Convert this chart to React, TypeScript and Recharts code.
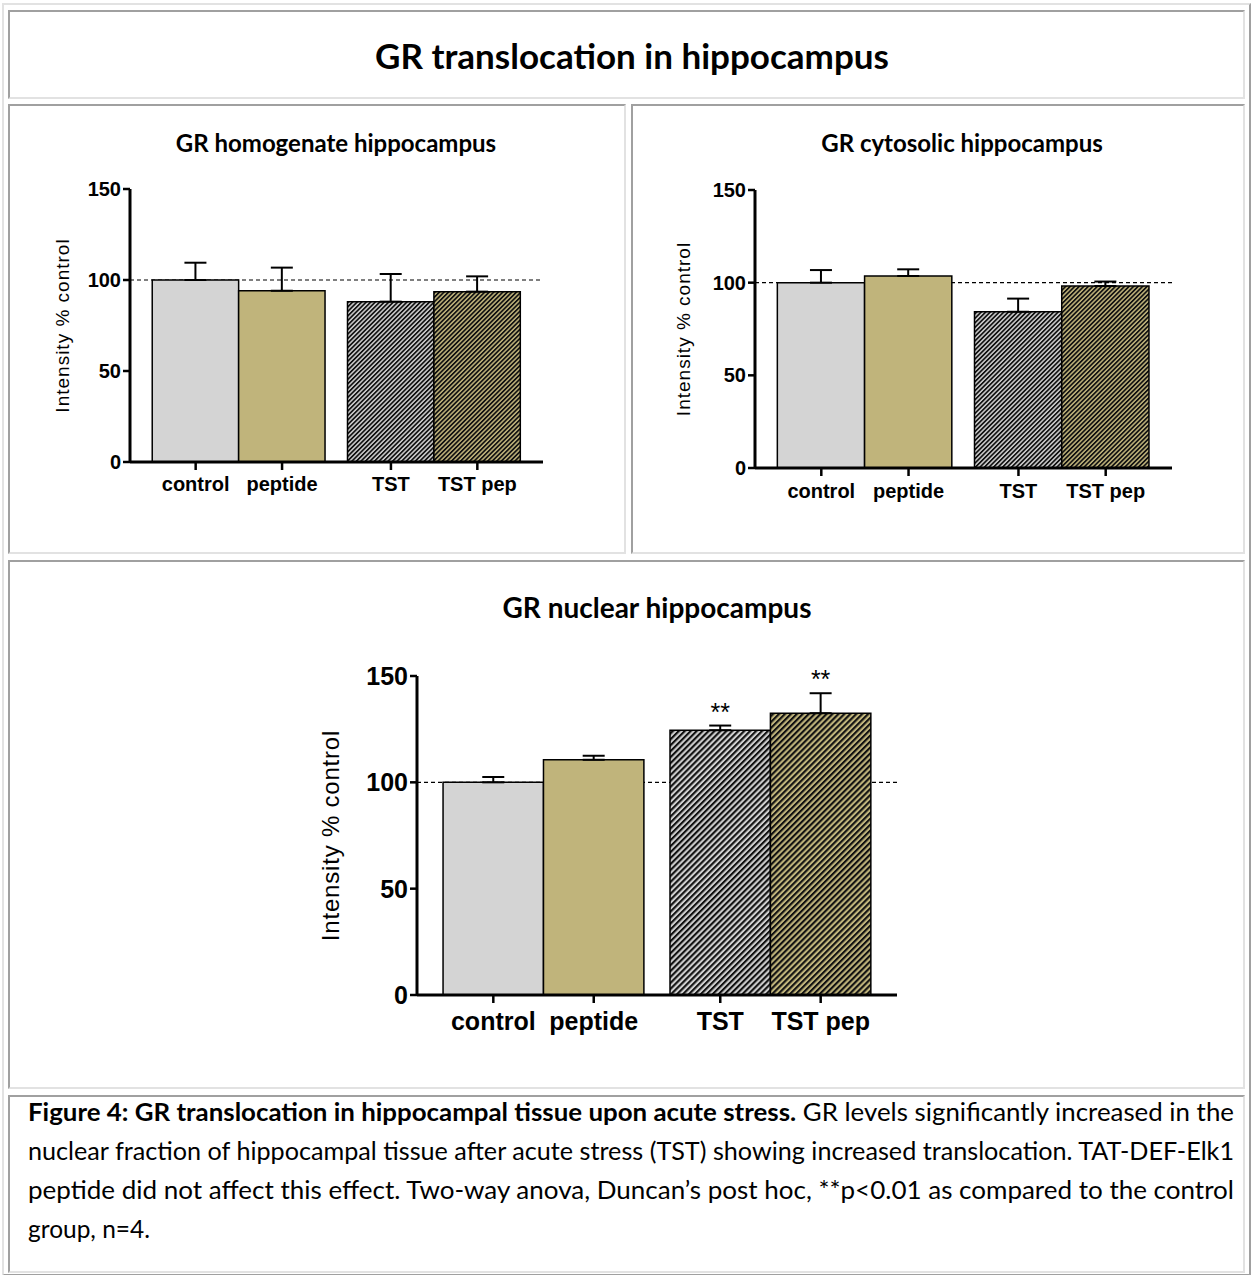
import React from "react";
import { BarChart, Bar, XAxis, YAxis, ErrorBar, ReferenceLine, Cell, LabelList } from "recharts";

// two-way design: vehicle vs acute stress (TST), without / with peptide
const groups = ["vehicle", "TST"];
const barLabels = [
  ["control", "peptide"],
  ["TST", "TST pep"],
];
const series = ["noPep", "pep"];
const yTicks = [0, 50, 100, 150];

// bar order: control, peptide, TST, TST pep  (mean and SEM, % of control)
const homogenateMean = [100, 94.1, 88.1, 93.6];
const homogenateSem = [9.5, 12.7, 15.2, 8.4];

const cytosolicMean = [100, 103.6, 84.3, 98.2];
const cytosolicSem = [6.8, 3.6, 7.1, 2.4];

const nuclearMean = [100, 110.6, 124.5, 132.5];
const nuclearSem = [2.5, 1.9, 2.2, 9.4];
const nuclearSig = ["", "", "**", "**"];

const captionBold = "Figure 4: GR translocation in hippocampal tissue upon acute stress.";
const captionLines = [
  " GR levels significantly increased in the",
  "nuclear fraction of hippocampal tissue after acute stress (TST) showing increased translocation. TAT-DEF-Elk1",
  "peptide did not affect this effect. Two-way anova, Duncan\u2019s post hoc, **p<0.01 as compared to the control",
  "group, n=4.",
];

const GAP = 0.26; // gap between bars, in bar widths
const AXIS_FONT = "'Liberation Sans', Arial, sans-serif";
const TITLE_FONT = "Lato, 'Open Sans', sans-serif";

function buildRows(mean: number[], sem: number[]) {
  return groups.map((g, i) => ({
    group: g,
    noPep: mean[i * 2],
    noPepErr: [0, sem[i * 2]],
    pep: mean[i * 2 + 1],
    pepErr: [0, sem[i * 2 + 1]],
  }));
}

type PanelCfg = {
  id: string;
  mean: number[];
  sem: number[];
  sig?: string[];
  left: number;
  top: number;
  plotW: number;
  plotH: number;
  marginTop: number;
  yAxisW: number;
  xAxisH: number;
  tickFont: number;
  labelFont: number;
  labelSpacing: number;
  labelOffset: number;
  labelDy: number;
  hatch: number;
  hatchLine: number;
};

function GroupTick(props: any) {
  const { x, y, payload, b, fontSize, labelDy } = props;
  const gi = groups.indexOf(payload.value);
  const labels = barLabels[gi] || [];
  return (
    <g>
      {[-1, 1].map((s, k) => (
        <g key={k}>
          <line x1={x + (s * b) / 2} x2={x + (s * b) / 2} y1={y} y2={y + 8} stroke="#000" strokeWidth={2.5} />
          <text
            x={x + (s * b) / 2}
            y={y + labelDy}
            textAnchor="middle"
            fontSize={fontSize}
            fontWeight={700}
            fontFamily={AXIS_FONT}
            fill="#000"
          >
            {labels[k]}
          </text>
        </g>
      ))}
    </g>
  );
}

function GroupChart({ cfg }: { cfg: PanelCfg }) {
  const rows = buildRows(cfg.mean, cfg.sem);
  const b = cfg.plotW / (4 + 3 * GAP);
  const g = b * GAP;
  const rightM = 12;
  const width = cfg.yAxisW + cfg.plotW + rightM;
  const height = cfg.marginTop + cfg.plotH + cfg.xAxisH;
  const fills = [
    ["#d4d4d4", `url(#${cfg.id}-grey)`],
    ["#c0b47b", `url(#${cfg.id}-khaki)`],
  ];

  const renderSig = (si: number) => (p: any) => {
    if (!cfg.sig) return null;
    const i = p.index * 2 + si;
    if (!cfg.sig[i]) return null;
    const k = Math.abs(p.height) / p.value;
    const top = p.y - cfg.sem[i] * k;
    return (
      <text x={p.x + p.width / 2} y={top - 5} textAnchor="middle" fontSize={25} fontFamily={AXIS_FONT} fill="#000">
        {cfg.sig[i]}
      </text>
    );
  };

  return (
    <div style={{ position: "absolute", left: cfg.left, top: cfg.top }}>
      <svg width={0} height={0} style={{ position: "absolute" }}>
        <defs>
          <pattern id={`${cfg.id}-grey`} patternUnits="userSpaceOnUse" width={cfg.hatch} height={cfg.hatch} patternTransform="rotate(45)">
            <rect width={cfg.hatch} height={cfg.hatch} fill="#cfcfcf" />
            <rect width={cfg.hatchLine} height={cfg.hatch} fill="#111" />
          </pattern>
          <pattern id={`${cfg.id}-khaki`} patternUnits="userSpaceOnUse" width={cfg.hatch} height={cfg.hatch} patternTransform="rotate(45)">
            <rect width={cfg.hatch} height={cfg.hatch} fill="#c0b47b" />
            <rect width={cfg.hatchLine} height={cfg.hatch} fill="#111" />
          </pattern>
        </defs>
      </svg>
      <BarChart
        width={width}
        height={height}
        data={rows}
        margin={{ top: cfg.marginTop, right: rightM, bottom: 0, left: 0 }}
        barGap={0}
        barSize={b}
      >
        <XAxis
          dataKey="group"
          padding={{ left: g / 2, right: g / 2 }}
          height={cfg.xAxisH}
          interval={0}
          tickLine={false}
          tickSize={0}
          tickMargin={0}
          axisLine={{ stroke: "#000", strokeWidth: 3 }}
          tick={(p: any) => <GroupTick {...p} b={b} fontSize={cfg.tickFont} labelDy={cfg.labelDy} />}
        />
        <YAxis
          domain={[0, 150]}
          ticks={yTicks}
          interval={0}
          width={cfg.yAxisW}
          tickSize={7}
          tickMargin={2}
          axisLine={{ stroke: "#000", strokeWidth: 3 }}
          tickLine={{ stroke: "#000", strokeWidth: 2.5 }}
          tick={{ fontSize: cfg.tickFont, fontWeight: 700, fill: "#000", fontFamily: AXIS_FONT }}
          label={{
            value: "Intensity % control",
            angle: -90,
            position: "insideLeft",
            offset: cfg.labelOffset,
            style: {
              textAnchor: "middle",
              fontSize: cfg.labelFont,
              letterSpacing: cfg.labelSpacing,
              fill: "#000",
              fontFamily: AXIS_FONT,
            },
          }}
        />
        <ReferenceLine y={100} stroke="#000" strokeWidth={1.2} strokeDasharray="4 3" zIndex={100} />
        {series.map((s, si) => (
          <Bar key={s} dataKey={s} isAnimationActive={false} stroke="#000" strokeWidth={1.5}>
            {rows.map((_, gi) => (
              <Cell key={gi} fill={fills[si][gi]} />
            ))}
            <ErrorBar dataKey={`${s}Err`} width={11} stroke="#000" strokeWidth={2} direction="y" isAnimationActive={false} />
            {cfg.sig && <LabelList dataKey={s} content={renderSig(si)} />}
          </Bar>
        ))}
      </BarChart>
    </div>
  );
}

function Box({ l, t, r, b, outer }: { l: number; t: number; r: number; b: number; outer?: boolean }) {
  const dark = "#a0a0a0";
  const light = "#e2e2e2";
  return (
    <div
      style={{
        position: "absolute",
        left: l,
        top: t,
        width: r - l,
        height: b - t,
        boxSizing: "border-box",
        borderStyle: "solid",
        borderWidth: 2,
        borderTopColor: outer ? light : dark,
        borderLeftColor: outer ? light : dark,
        borderRightColor: outer ? dark : light,
        borderBottomColor: outer ? dark : light,
      }}
    />
  );
}

function Title({ text, cx, cy, size }: { text: string; cx: number; cy: number; size: number }) {
  return (
    <div
      style={{
        position: "absolute",
        left: cx - 400,
        top: cy - size,
        width: 800,
        height: size * 2,
        lineHeight: `${size * 2}px`,
        textAlign: "center",
        fontFamily: TITLE_FONT,
        fontWeight: 700,
        fontSize: size,
        color: "#000",
        whiteSpace: "nowrap",
      }}
    >
      {text}
    </div>
  );
}

const homogenateCfg: PanelCfg = {
  id: "hom",
  mean: homogenateMean,
  sem: homogenateSem,
  left: 40,
  top: 170,
  plotW: 413,
  plotH: 273,
  marginTop: 19,
  yAxisW: 90,
  xAxisH: 42,
  tickFont: 20,
  labelFont: 19,
  labelSpacing: 1,
  labelOffset: 22,
  labelDy: 29,
  hatch: 3.2,
  hatchLine: 1.7,
};

const cytosolicCfg: PanelCfg = {
  id: "cyt",
  mean: cytosolicMean,
  sem: cytosolicSem,
  left: 665,
  top: 170,
  plotW: 417,
  plotH: 278,
  marginTop: 20,
  yAxisW: 90,
  xAxisH: 42,
  tickFont: 20,
  labelFont: 19,
  labelSpacing: 1,
  labelOffset: 18,
  labelDy: 30,
  hatch: 3.2,
  hatchLine: 1.7,
};

const nuclearCfg: PanelCfg = {
  id: "nuc",
  mean: nuclearMean,
  sem: nuclearSem,
  sig: nuclearSig,
  left: 307,
  top: 650,
  plotW: 480,
  plotH: 319,
  marginTop: 26,
  yAxisW: 110,
  xAxisH: 50,
  tickFont: 25,
  labelFont: 24,
  labelSpacing: 0.8,
  labelOffset: 23,
  labelDy: 35,
  hatch: 4.2,
  hatchLine: 2.1,
};

function Caption() {
  const fontSize = 25;
  const left = 28;
  const full = 1206;
  const top = 1095;
  const baseY = 1121;
  return (
    <svg width={1252} height={180} style={{ position: "absolute", left: 0, top }}>
      {captionLines.map((line, i) => {
        const y = baseY - top + i * 39;
        const last = i === captionLines.length - 1;
        return (
          <text
            key={i}
            x={left}
            y={y}
            fontSize={fontSize}
            fontFamily={TITLE_FONT}
            fill="#000"
            textLength={last ? 122 : full}
            lengthAdjust="spacingAndGlyphs"
          >
            {i === 0 && <tspan fontWeight={700}>{captionBold}</tspan>}
            <tspan xmlSpace="preserve">{line}</tspan>
          </text>
        );
      })}
    </svg>
  );
}

export default function App() {
  return (
    <div style={{ position: "absolute", left: 0, top: 0, width: 1252, height: 1275, background: "#fff", overflow: "hidden" }}>
      <Box l={2} t={3} r={1251} b={1276} outer />
      <Box l={8} t={10} r={1245} b={99} />
      <Box l={8} t={104} r={626} b={554} />
      <Box l={631} t={104} r={1245} b={554} />
      <Box l={8} t={560} r={1245} b={1089} />
      <Box l={8} t={1095} r={1245} b={1273} />

      <Title text="GR translocation in hippocampus" cx={632} cy={55} size={35} />
      <Title text="GR homogenate hippocampus" cx={336} cy={143} size={24} />
      <Title text="GR cytosolic hippocampus" cx={962} cy={143} size={24} />
      <Title text="GR nuclear hippocampus" cx={657} cy={607} size={28} />

      <GroupChart cfg={homogenateCfg} />
      <GroupChart cfg={cytosolicCfg} />
      <GroupChart cfg={nuclearCfg} />

      <Caption />
    </div>
  );
}
